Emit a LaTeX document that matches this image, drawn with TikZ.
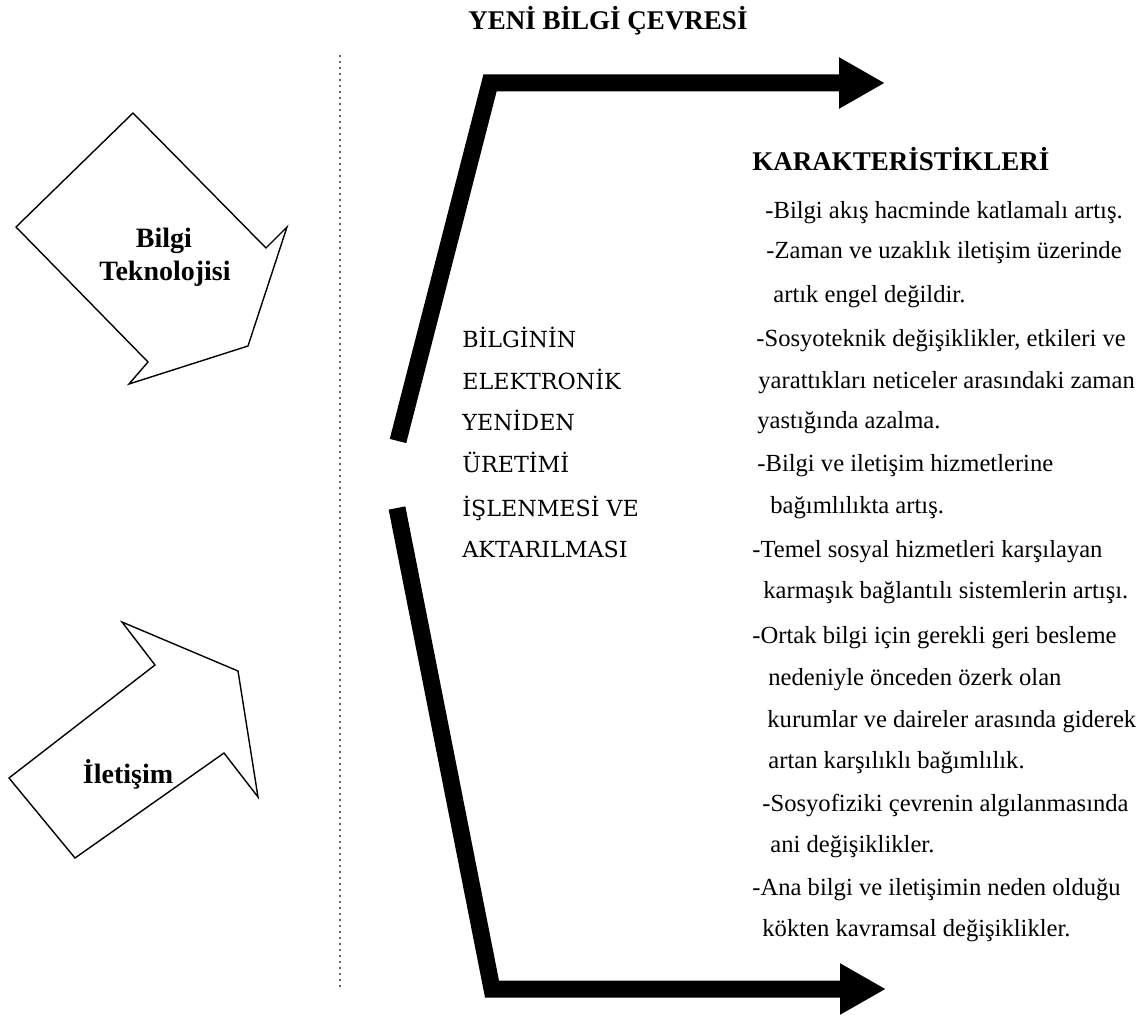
\documentclass[tikz,border=0pt]{standalone}
\usepackage{fontspec}
\setmainfont{Liberation Serif}
\newfontfamily\midfont{DejaVu Serif}
\usetikzlibrary{arrows.meta}

\begin{document}
\begin{tikzpicture}[
    x=0.5pt, y=-0.5pt,
    body/.style={anchor=base west, inner sep=0pt, font=\fontsize{12.3}{14}\selectfont},
    midtext/.style={anchor=base west, inner sep=0pt, font=\midfont\fontsize{11.1}{13}\selectfont},
    boldtext/.style={anchor=base, inner sep=0pt, font=\bfseries\fontsize{14}{16}\selectfont},
    % Thick black bent arrow
    big arrow/.style={
        line width=8.5pt, line join=miter,
        -{Triangle[length=23pt, width=24pt]}
    },
    block/.style={draw, line width=0.7pt, line join=miter, fill=white}
]
    \useasboundingbox (0,0) rectangle (1144,1016);

    % Coordinates
    \coordinate (dot_top) at (340,55);
    \coordinate (dot_bot) at (340,990);

    \coordinate (up_start) at (398,441);
    \coordinate (up_bend)  at (490,83);
    \coordinate (up_end)   at (885,83);

    \coordinate (lo_start) at (397,508);
    \coordinate (lo_bend)  at (492,989);
    \coordinate (lo_end)   at (886,989);

    % Title
    \node[anchor=base, inner sep=0pt, font=\bfseries\fontsize{13.5}{16}\selectfont] (title) at (608,30) {YENİ BİLGİ ÇEVRESİ};

    % Dotted divider
    \draw[dotted, line width=1pt, black!60] (dot_top) -- (dot_bot);

    % Block arrows on the left
    \draw[block] (133,113) -- (266,248) -- (287,227) -- (248,346) -- (129,384) -- (148,362) -- (16,227) -- cycle;
    \node[boldtext] (bilgi) at (164,247) {Bilgi};
    \node[boldtext] (tekno) at (165,280) {Teknolojisi};

    \draw[block] (122,622) -- (238,671) -- (258,797) -- (224,753) -- (75,858) -- (9,778) -- (155,665) -- cycle;
    \node[boldtext] (iletisim) at (128,783) {İletişim};

    % Bent arrows
    \draw[big arrow] (up_start) -- (up_bend) -- (up_end);
    \draw[big arrow] (lo_start) -- (lo_bend) -- (lo_end);

    % Middle text
    \node[midtext] (m1) at (462,347) {BİLGİNİN};
    \node[midtext] (m2) at (462,389) {ELEKTRONİK};
    \node[midtext] (m3) at (462,430) {YENİDEN};
    \node[midtext] (m4) at (462,472) {ÜRETİMİ};
    \node[midtext] (m5) at (462,516) {İŞLENMESİ VE};
    \node[midtext] (m6) at (462,557) {AKTARILMASI};

    % Characteristics
    \node[anchor=base west, inner sep=0pt, font=\bfseries\fontsize{13.5}{16}\selectfont] (kar) at (752,170) {KARAKTERİSTİKLERİ};
    \node[body] (c1)  at (765,219) {-Bilgi akış hacminde katlamalı artış.};
    \node[body] (c2)  at (766,258) {-Zaman ve uzaklık iletişim üzerinde};
    \node[body] (c3)  at (773,302) {artık engel değildir.};
    \node[body] (c4)  at (756,346) {-Sosyoteknik değişiklikler, etkileri ve};
    \node[body] (c5)  at (758,388) {yarattıkları neticeler arasındaki zaman};
    \node[body] (c6)  at (757,428) {yastığında azalma.};
    \node[body] (c7)  at (757,471) {-Bilgi ve iletişim hizmetlerine};
    \node[body] (c8)  at (770,513) {bağımlılıkta artış.};
    \node[body] (c9)  at (752,557) {-Temel sosyal hizmetleri karşılayan};
    \node[body] (c10) at (763,598) {karmaşık bağlantılı sistemlerin artışı.};
    \node[body] (c11) at (752,643) {-Ortak bilgi için gerekli geri besleme};
    \node[body] (c12) at (768,685) {nedeniyle önceden özerk olan};
    \node[body] (c13) at (767,727) {kurumlar ve daireler arasında giderek};
    \node[body] (c14) at (768,768) {artan karşılıklı bağımlılık.};
    \node[body] (c15) at (762,811) {-Sosyofiziki çevrenin algılanmasında};
    \node[body] (c16) at (770,852) {ani değişiklikler.};
    \node[body] (c17) at (752,895) {-Ana bilgi ve iletişimin neden olduğu};
    \node[body] (c18) at (762,936) {kökten kavramsal değişiklikler.};

\end{tikzpicture}
\end{document}
